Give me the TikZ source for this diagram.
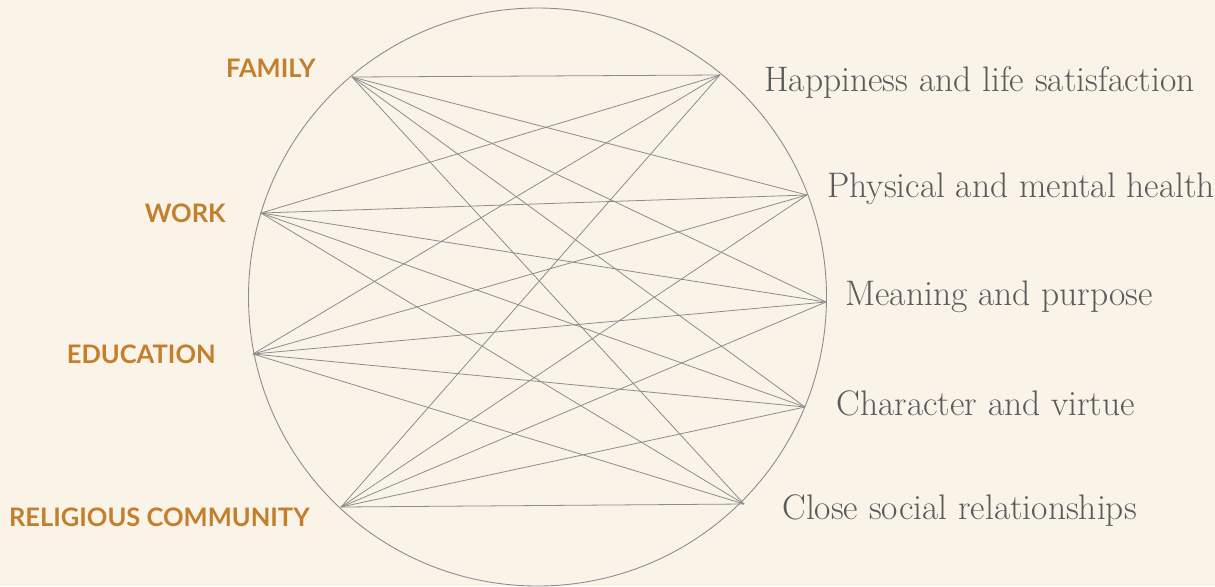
\documentclass[tikz,border=0pt]{standalone}
\usepackage{fontspec}
\setmainfont{Latin Modern Roman}
\newfontfamily\labelfont{Lato}
\usepackage{tikz}
\usetikzlibrary{positioning}
\definecolor{wbcream}{RGB}{249,243,232}
\definecolor{wborange}{RGB}{196,127,44}
\definecolor{wbgray}{RGB}{88,90,92}
\definecolor{wbline}{RGB}{140,140,140}

\begin{document}
\begin{tikzpicture}[
  x=0.02cm,y=-0.02cm,
  area/.style={font=\labelfont\bfseries\fontsize{14.5}{16}\selectfont,
               text=wborange,anchor=east,inner sep=0pt},
  outcome/.style={font=\fontsize{20.2}{23}\selectfont,
                  text=wbgray,anchor=west,inner sep=0pt},
  ring/.style={draw=wbline,line width=0.5pt},
  link/.style={draw=wbline,line width=0.45pt}]

  \useasboundingbox[fill=wbcream] (0,0) rectangle (1215,586);

  % the circle
  \draw[ring] (537.5,297) circle[radius=289];

  % points on the circle
  \coordinate (family) at (352,77);
  \coordinate (work) at (261,213);
  \coordinate (education) at (253,354);
  \coordinate (religion) at (341,507);
  \coordinate (happiness) at (720,75);
  \coordinate (health) at (807,195);
  \coordinate (meaning) at (826,302);
  \coordinate (virtue) at (805,407);
  \coordinate (relations) at (744,504);

  % left labels
  \node[area] (familylbl) at (316,68) {FAMILY};
  \node[area] (worklbl) at (226,213) {WORK};
  \node[area] (educationlbl) at (216,354) {EDUCATION};
  \node[area] (religionlbl) at (310,517) {RELIGIOUS COMMUNITY};

  % right labels
  \node[outcome] (happinesslbl) at (764,82) {Happiness and life satisfaction};
  \node[outcome] (healthlbl) at (827,189) {Physical and mental health};
  \node[outcome] (meaninglbl) at (845,297) {Meaning and purpose};
  \node[outcome] (virtuelbl) at (836,403) {Character and virtue};
  \node[outcome] (relationslbl) at (782,511) {Close social relationships};

  % every area to every outcome
  \foreach \a in {family,work,education,religion}
    \foreach \b in {happiness,health,meaning,virtue,relations}
      \draw[link] (\a) -- (\b);
\end{tikzpicture}
\end{document}
